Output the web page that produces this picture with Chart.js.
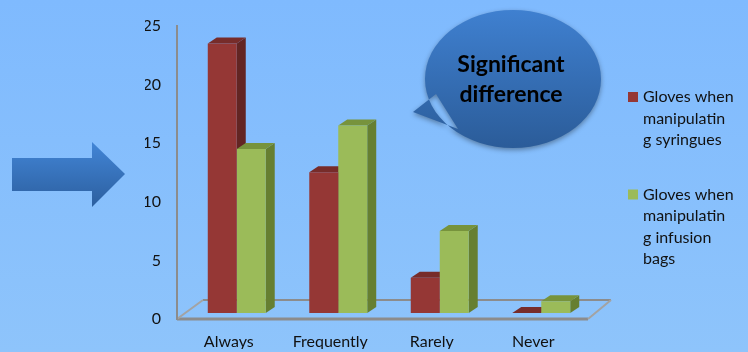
<!DOCTYPE html>
<html>
<head>
<meta charset="utf-8">
<script src="https://cdn.jsdelivr.net/npm/chart.js@4.4.0/dist/chart.umd.min.js"></script>
<style>
  html, body { margin: 0; padding: 0; }
  body { width: 748px; height: 352px; overflow: hidden; background: linear-gradient(#7fbafe, #8ec4fb); }
  #wrap { position: relative; width: 748px; height: 352px; }
</style>
</head>
<body>
<div id="wrap"><canvas id="glovesChart" width="748" height="352"></canvas></div>
<script>
var categories = ['Always', 'Frequently', 'Rarely', 'Never'];
var syringes = [23, 12, 3, 0];
var infusionBags = [14, 16, 7, 1];
var yTicks = [0, 5, 10, 15, 20, 25];
var seriesLabels = [
    ['Gloves when', 'manipulatin', 'g syringues'],
    ['Gloves when', 'manipulatin', 'g infusion', 'bags']
];
var calloutText = ['Significant', 'difference'];

var FONT = 'Lato, "Open Sans", sans-serif';
var depthX = 9, depthY = 6;

// fake 3d: floor, side and top faces go under the flat bars chart.js draws
var bars3d = {
    id: 'bars3d',
    beforeDatasetsDraw: function(chart) {
        var ctx = chart.ctx, area = chart.chartArea;
        var base = chart.scales.y.getPixelForValue(0);
        var axisX = area.left - 9;
        ctx.save();

        // floor
        ctx.strokeStyle = '#8c8c8c';
        ctx.lineWidth = 2;
        ctx.beginPath();
        ctx.moveTo(area.left + 17, base - 13);
        ctx.lineTo(area.right + 19, base - 13);
        ctx.stroke();
        ctx.lineWidth = 3;
        ctx.beginPath();
        ctx.moveTo(axisX, base + 6);
        ctx.lineTo(area.right - 4, base + 6);
        ctx.stroke();
        ctx.strokeStyle = '#a3a3a3';
        ctx.lineWidth = 2;
        ctx.beginPath();
        ctx.moveTo(axisX, base + 6);
        ctx.lineTo(area.left + 17, base - 13);
        ctx.moveTo(area.right - 4, base + 6);
        ctx.lineTo(area.right + 19, base - 13);
        ctx.stroke();
        // value axis
        ctx.strokeStyle = '#8c8c8c';
        ctx.lineWidth = 2;
        ctx.beginPath();
        ctx.moveTo(axisX, area.top + 5);
        ctx.lineTo(axisX, base + 7);
        ctx.stroke();

        chart.data.datasets.forEach(function(ds, i) {
            var meta = chart.getDatasetMeta(i);
            meta.data.forEach(function(bar) {
                var p = bar.getProps(['x', 'y', 'base', 'width'], true);
                var l = p.x - p.width / 2, r = p.x + p.width / 2, t = p.y;
                ctx.fillStyle = ds.sideColor;
                ctx.beginPath();
                ctx.moveTo(r, t);
                ctx.lineTo(r + depthX, t - depthY);
                ctx.lineTo(r + depthX, p.base - depthY);
                ctx.lineTo(r, p.base);
                ctx.closePath();
                ctx.fill();
                ctx.fillStyle = ds.topColor;
                ctx.beginPath();
                ctx.moveTo(l, t);
                ctx.lineTo(l + depthX, t - depthY);
                ctx.lineTo(r + depthX, t - depthY);
                ctx.lineTo(r, t);
                ctx.closePath();
                ctx.fill();
            });
        });
        ctx.restore();
    }
};

// arrow, speech bubble and the wrapped legend
var extras = {
    id: 'extras',
    afterDraw: function(chart) {
        var ctx = chart.ctx;
        ctx.save();

        // arrow
        var g = ctx.createLinearGradient(0, 142, 0, 207);
        g.addColorStop(0, '#4285d6');
        g.addColorStop(1, '#2c5f9f');
        ctx.fillStyle = g;
        ctx.beginPath();
        ctx.moveTo(12, 158);
        ctx.lineTo(92, 158);
        ctx.lineTo(92, 142);
        ctx.lineTo(125, 174);
        ctx.lineTo(92, 207);
        ctx.lineTo(92, 191);
        ctx.lineTo(12, 191);
        ctx.closePath();
        ctx.fill();

        // bubble
        var bg = ctx.createLinearGradient(0, 10, 0, 148);
        bg.addColorStop(0, '#3f80d0');
        bg.addColorStop(1, '#2b5c99');
        ctx.fillStyle = bg;
        ctx.shadowColor = 'rgba(0,0,0,0.35)';
        ctx.shadowBlur = 5;
        ctx.shadowOffsetY = 2;
        ctx.beginPath();
        ctx.ellipse(513, 79, 88, 69, 0, 0, Math.PI * 2);
        ctx.moveTo(436, 94);
        ctx.lineTo(413, 112);
        ctx.lineTo(458, 129);
        ctx.closePath();
        ctx.fill();
        ctx.shadowColor = 'transparent';
        ctx.fillStyle = '#000';
        ctx.font = 'bold 23px ' + FONT;
        ctx.textAlign = 'center';
        ctx.textBaseline = 'middle';
        calloutText.forEach(function(line, k) {
            ctx.fillText(line, 511, 65 + k * 30);
        });

        // legend
        ctx.font = '16px ' + FONT;
        ctx.textAlign = 'left';
        var y = 97;
        chart.data.datasets.forEach(function(ds, i) {
            ctx.fillStyle = ds.backgroundColor;
            ctx.fillRect(628, y - 5, 10, 10);
            ctx.fillStyle = '#111';
            seriesLabels[i].forEach(function(line, k) {
                ctx.fillText(line, 643, y + k * 21.5);
            });
            y += seriesLabels[i].length * 21.5 + 33;
        });
        ctx.restore();
    }
};

var ctx = document.getElementById('glovesChart').getContext('2d');
var chart = new Chart(ctx, {
    type: 'bar',
    data: {
        labels: categories,
        datasets: [{
            label: seriesLabels[0].join(' '),
            data: syringes,
            backgroundColor: '#953735',
            topColor: '#772c2a',
            sideColor: '#632523',
            barPercentage: 1,
            categoryPercentage: 0.571
        }, {
            label: seriesLabels[1].join(' '),
            data: infusionBags,
            backgroundColor: '#9bbb59',
            topColor: '#77933c',
            sideColor: '#667f31',
            barPercentage: 1,
            categoryPercentage: 0.571
        }]
    },
    options: {
        responsive: false,
        animation: false,
        layout: { padding: { left: 145, right: 156, top: 20, bottom: 3 } },
        plugins: {
            legend: { display: false },
            tooltip: { enabled: false }
        },
        scales: {
            x: {
                grid: { display: false, drawTicks: false },
                border: { display: false },
                ticks: {
                    color: '#111',
                    font: { family: FONT, size: 16 },
                    padding: 19,
                    labelOffset: -8
                },
                afterFit: function(scale) { scale.height = 36; }
            },
            y: {
                min: 0,
                max: 25,
                grid: { display: false, drawTicks: false },
                border: { display: false },
                ticks: {
                    color: '#111',
                    font: { family: FONT, size: 16 },
                    padding: 25,
                    labelOffset: 6
                },
                afterBuildTicks: function(axis) {
                    axis.ticks = yTicks.map(function(v) { return { value: v }; });
                },
                afterFit: function(scale) {
                    scale.width = 41;
                    scale.paddingTop = 0;
                    scale.paddingBottom = 0;
                }
            }
        }
    },
    plugins: [bars3d, extras]
});
</script>
</body>
</html>
